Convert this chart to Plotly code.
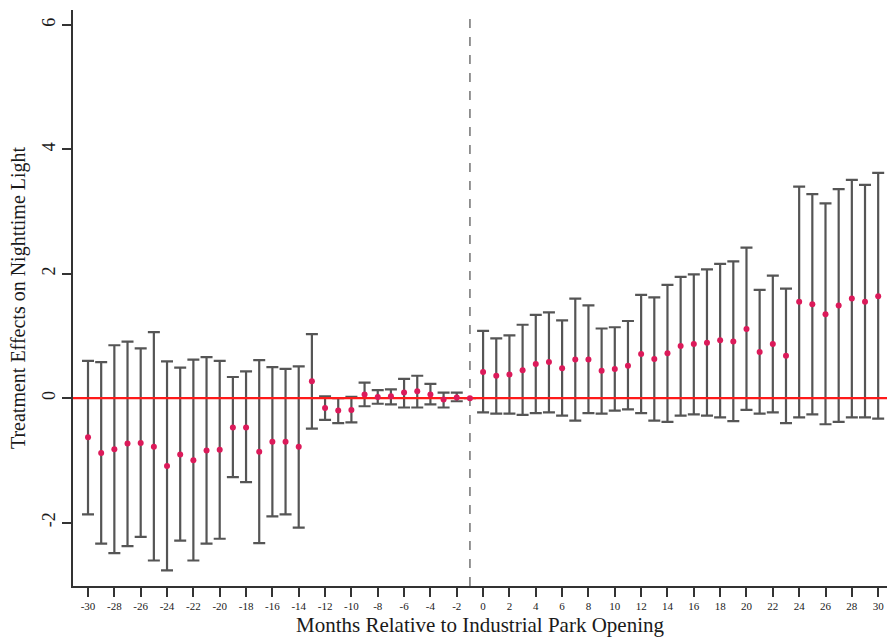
import math
import plotly.graph_objects as go

months = list(range(-30, 31))
coef = [-0.63, -0.88, -0.82, -0.73, -0.72, -0.78, -1.09, -0.905, -1.00, -0.84,
        -0.83, -0.47, -0.47, -0.86, -0.70, -0.70, -0.78, 0.27, -0.16, -0.20,
        -0.19, 0.06, 0.02, 0.03, 0.09, 0.11, 0.06, -0.02, 0.01, 0.0,
        0.42, 0.36, 0.38, 0.45, 0.55, 0.58, 0.48, 0.62, 0.62, 0.44,
        0.47, 0.52, 0.71, 0.63, 0.72, 0.84, 0.87, 0.89, 0.93, 0.91,
        1.11, 0.74, 0.87, 0.68, 1.55, 1.51, 1.35, 1.49, 1.60, 1.55, 1.64]
upper = [0.60, 0.58, 0.85, 0.91, 0.80, 1.06, 0.59, 0.49, 0.62, 0.66,
         0.60, 0.34, 0.43, 0.61, 0.50, 0.47, 0.51, 1.03, 0.03, 0.00,
         0.02, 0.25, 0.13, 0.14, 0.31, 0.36, 0.23, 0.09, 0.09, math.nan,
         1.08, 0.96, 1.01, 1.18, 1.34, 1.38, 1.25, 1.60, 1.49, 1.12,
         1.14, 1.24, 1.66, 1.62, 1.82, 1.95, 1.99, 2.07, 2.16, 2.20,
         2.42, 1.74, 1.97, 1.76, 3.40, 3.28, 3.13, 3.36, 3.51, 3.43, 3.62]
lower = [-1.87, -2.34, -2.49, -2.38, -2.23, -2.61, -2.77, -2.29, -2.61, -2.34,
         -2.26, -1.27, -1.35, -2.33, -1.90, -1.87, -2.08, -0.49, -0.35, -0.40,
         -0.39, -0.13, -0.09, -0.10, -0.15, -0.15, -0.10, -0.15, -0.05, math.nan,
         -0.23, -0.25, -0.25, -0.27, -0.24, -0.23, -0.28, -0.36, -0.24, -0.25,
         -0.20, -0.18, -0.24, -0.36, -0.38, -0.28, -0.26, -0.28, -0.31, -0.37,
         -0.19, -0.25, -0.23, -0.40, -0.31, -0.26, -0.42, -0.38, -0.31, -0.31, -0.33]

x_ticks = list(range(-30, 31, 2))
y_ticks = [-2, 0, 2, 4, 6]
x_range = [-31.14, 30.67]
y_range = [-3.02, 6.24]
event_month = -1

err_plus = [None if math.isnan(u) else u - c for u, c in zip(upper, coef)]
err_minus = [None if math.isnan(l) else c - l for l, c in zip(lower, coef)]

serif = "Liberation Serif, Times New Roman, serif"

fig = go.Figure()
fig.add_trace(go.Scatter(
    x=months, y=coef, mode="markers",
    marker=dict(size=0.1, color="rgba(0,0,0,0)"),
    error_y=dict(type="data", symmetric=False, array=err_plus, arrayminus=err_minus,
                 color="#555555", thickness=2.2, width=6),
    showlegend=False, hoverinfo="skip"))
fig.add_trace(go.Scatter(
    x=x_range, y=[0, 0], mode="lines",
    line=dict(color="#FF1A1A", width=2.2), showlegend=False, hoverinfo="skip"))
fig.add_trace(go.Scatter(
    x=months, y=coef, mode="markers",
    marker=dict(size=6, color="#DC1A5A"), showlegend=False))

fig.add_shape(type="line", xref="x", yref="paper", x0=event_month, x1=event_month,
              y0=0, y1=1, line=dict(color="#8A8A8A", width=1.8, dash="dash"), layer="below")

fig.update_layout(
    width=887, height=643,
    margin=dict(l=73, r=0, t=10, b=57),
    paper_bgcolor="white", plot_bgcolor="white",
    font=dict(family=serif, color="#1a1a1a"),
    xaxis=dict(range=x_range, tickvals=x_ticks, ticktext=[str(v) for v in x_ticks],
               ticks="outside", ticklen=9, tickwidth=1.5, tickcolor="#333333",
               showline=True, linecolor="#333333", linewidth=1.5,
               showgrid=False, zeroline=False, automargin=False,
               tickfont=dict(size=11, family=serif, color="#1a1a1a"),
               title=dict(text="Months Relative to Industrial Park Opening",
                          font=dict(size=21, family=serif), standoff=6)),
    yaxis=dict(range=y_range, tickvals=y_ticks, ticktext=[str(v) for v in y_ticks],
               ticks="outside", ticklen=9, tickwidth=1.5, tickcolor="#333333",
               tickangle=-90,
               showline=True, linecolor="#333333", linewidth=1.5,
               showgrid=False, zeroline=False, automargin=False,
               tickfont=dict(size=18, family=serif, color="#1a1a1a"),
               title=dict(text="Treatment Effects on Nighttime Light",
                          font=dict(size=20, family=serif), standoff=8)),
)

fig.write_html(
    "out.html",
    config={"displayModeBar": False},
    post_script="document.body.style.margin='0';document.body.style.overflow='hidden';",
)
